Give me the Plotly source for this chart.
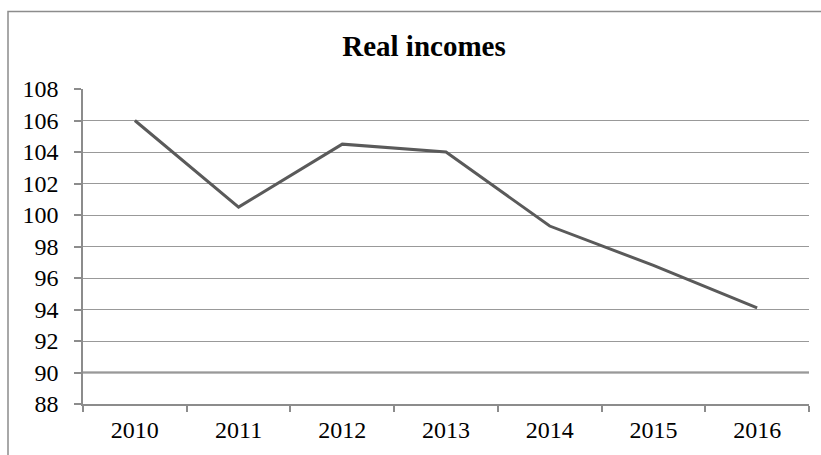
import plotly.graph_objects as go

years = ["2010", "2011", "2012", "2013", "2014", "2015", "2016"]
real_incomes = [106.0, 100.5, 104.5, 104.0, 99.3, 96.8, 94.1]
y_ticks = [88, 90, 92, 94, 96, 98, 100, 102, 104, 106, 108]

W, H = 821, 455
ML, MR, MT, MB = 83, 12, 89, 49
pw, ph = W - ML - MR, H - MT - MB

font = "Liberation Serif"

fig = go.Figure(
    go.Scatter(
        x=years,
        y=real_incomes,
        mode="lines",
        line=dict(color="#5a5a5a", width=3),
        hoverinfo="x+y",
    )
)

# outer chart-area frame (runs off the right and bottom edges)
fig.add_shape(
    type="rect", xref="paper", yref="paper",
    x0=(8 - ML) / pw, x1=(W + 10 - ML) / pw,
    y0=-(MB + 10) / ph, y1=(H - MB - 11) / ph,
    line=dict(color="#8c8c8c", width=1.5), fillcolor="rgba(0,0,0,0)",
    layer="below",
)
# heavier gridline at 90
fig.add_shape(
    type="line", xref="paper", yref="y",
    x0=0, x1=1, y0=90, y1=90,
    line=dict(color="#7a7a7a", width=2), layer="below",
)

fig.update_layout(
    width=W, height=H,
    margin=dict(l=ML, r=MR, t=MT, b=MB, pad=0),
    paper_bgcolor="white", plot_bgcolor="white",
    showlegend=False,
    title=dict(
        text="<b>Real incomes</b>",
        x=424 / W, xanchor="center",
        y=1 - 46 / H, yanchor="middle",
        font=dict(family=font, size=29, color="black"),
    ),
    font=dict(family=font, size=24, color="black"),
)

fig.update_xaxes(
    type="category",
    showgrid=False,
    showline=True, linecolor="#8c8c8c", linewidth=1.5,
    ticks="outside", ticklen=6, tickcolor="#8c8c8c", tickwidth=1.5,
    tickson="boundaries",
    ticklabelstandoff=3,
    tickfont=dict(family=font, size=24, color="black"),
    range=[-0.5, 6.5],
    fixedrange=True,
)
fig.update_yaxes(
    range=[88, 108],
    tickvals=y_ticks,
    showgrid=True, gridcolor="#999999", gridwidth=1,
    showline=True, linecolor="#8c8c8c", linewidth=1.5,
    ticks="outside", ticklen=7, tickcolor="#8c8c8c", tickwidth=1.5,
    ticklabelstandoff=11,
    zeroline=False,
    tickfont=dict(family=font, size=24, color="black"),
    fixedrange=True,
)

fig.write_html("out.html")
